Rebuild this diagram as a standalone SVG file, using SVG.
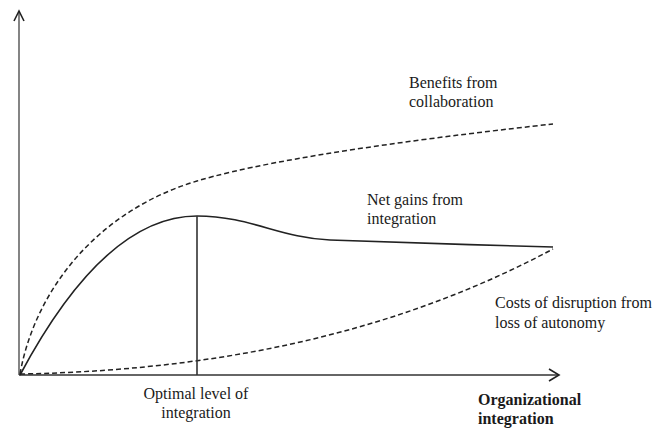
<svg xmlns="http://www.w3.org/2000/svg" width="656" height="428" viewBox="0 0 656 428">
<style>
.t{font-family:"Liberation Serif","Times New Roman",serif;font-size:16px;fill:#1a1a1a}
.b{font-weight:bold}
.ax{fill:none;stroke:#666;stroke-width:1.6}
.hd{fill:none;stroke:#222;stroke-width:1.6;stroke-linejoin:miter}
.ds{fill:none;stroke:#222;stroke-width:1.5;stroke-dasharray:5 3}
.sl{fill:none;stroke:#222;stroke-width:1.6}
</style>
<rect width="656" height="428" fill="#fff"/>
<g id="axes">
<line class="ax" x1="19" y1="375" x2="19" y2="11"/>
<polyline class="hd" points="14,21 19,11 24,21"/>
<line x1="19" y1="375" x2="558" y2="375" stroke="#333" stroke-width="1.6"/>
<polyline class="hd" points="549,369 559,375 549,381"/>
</g>
<g id="curves">
<path id="benefits" class="ds" d="M20,374 C35,290 97,211 197,181 C280,156 453,135 553,124"/>
<path id="net" class="sl" d="M20,375 C60,300 120,216 197,216 C250,216 280,238 330,240 C380,242 480,245 553,247"/>
<path id="costs" class="ds" d="M20,374 C250,370 420,320 553,249"/>
<line id="optimal" x1="197" y1="216" x2="197" y2="375" stroke="#333" stroke-width="1.6"/>
</g>
<g id="labels">
<text class="t" x="409" y="88">Benefits from</text>
<text class="t" x="409" y="107">collaboration</text>
<text class="t" x="367" y="205">Net gains from</text>
<text class="t" x="367" y="224">integration</text>
<text class="t" x="495" y="308">Costs of disruption from</text>
<text class="t" x="495" y="328">loss of autonomy</text>
<text class="t" x="196" y="399" text-anchor="middle">Optimal level of</text>
<text class="t" x="196" y="418" text-anchor="middle">integration</text>
<text class="t b" x="478" y="405">Organizational</text>
<text class="t b" x="478" y="424">integration</text>
</g>
</svg>
